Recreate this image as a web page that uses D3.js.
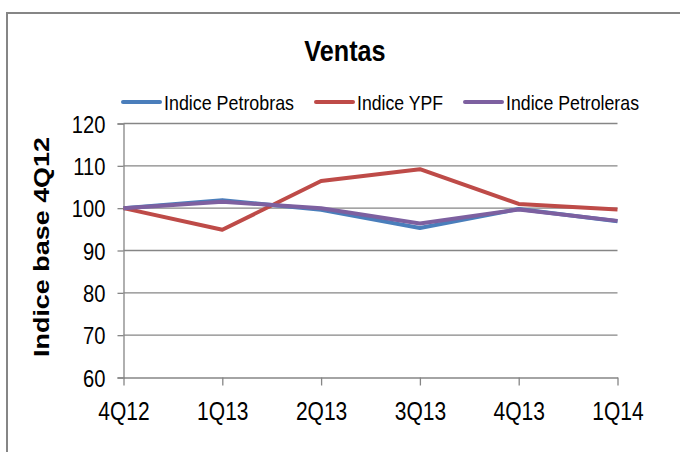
<!DOCTYPE html>
<html>
<head>
<meta charset="utf-8">
<script src="https://cdn.jsdelivr.net/npm/d3@7"></script>
<style>
body{margin:0;background:#fff;}
text{font-family:"Liberation Sans Narrow","Arial Narrow","Liberation Sans",sans-serif;fill:#000;}
</style>
</head>
<body>
<div id="chart"></div>
<script>
var quarters=["4Q12","1Q13","2Q13","3Q13","4Q13","1Q14"];
var petrobras=[100,101.9,99.6,95.3,99.8,96.9];
var ypf=[100,94.9,106.4,109.2,101.0,99.7];
var petroleras=[100,101.5,100.0,96.4,99.7,97.0];
var yTicks=[60,70,80,90,100,110,120];

var series=[
  {name:"Indice Petrobras",values:petrobras,color:"#4a7ebb"},
  {name:"Indice YPF",values:ypf,color:"#be4b48"},
  {name:"Indice Petroleras",values:petroleras,color:"#7d60a0"}
];

var W=680,H=452;
var svg=d3.select("#chart").append("svg").attr("width",W).attr("height",H);

// squeeze text to look like a narrow font
function narrow(sel,k){
  sel.each(function(){
    var w=this.getComputedTextLength();
    d3.select(this).attr("textLength",w*k).attr("lengthAdjust","spacingAndGlyphs");
  });
}

// outer frame (runs off right and bottom like the source picture)
svg.append("rect").attr("x",7).attr("y",13).attr("width",700).attr("height",460)
   .attr("fill","none").attr("stroke","#868686").attr("stroke-width",2);

var x=d3.scalePoint().domain(quarters).range([123.5,617.5]);
var y=d3.scaleLinear().domain([60,120]).range([377.5,123.5]);

// gridlines
svg.append("g").selectAll("line").data(yTicks.slice(1)).enter().append("line")
   .attr("x1",123.5).attr("x2",617.5)
   .attr("y1",function(d){return y(d);}).attr("y2",function(d){return y(d);})
   .attr("stroke","#868686").attr("stroke-width",1.3);

// y axis
var yAxis=svg.append("g").attr("transform","translate(123.5,0)")
   .call(d3.axisLeft(y).tickValues(yTicks).tickSize(6).tickPadding(12));
yAxis.select(".domain").attr("stroke","#868686").attr("stroke-width",1.3);
yAxis.selectAll(".tick line").attr("stroke","#868686").attr("stroke-width",1.3);
yAxis.selectAll("text").style("font-size","24px").attr("dy","0.36em");

// x axis
var xAxis=svg.append("g").attr("transform","translate(0,377.5)")
   .call(d3.axisBottom(x).tickSize(8).tickPadding(17).tickSizeOuter(0));
xAxis.select(".domain").attr("stroke","#868686").attr("stroke-width",1.3);
xAxis.selectAll(".tick line").attr("stroke","#868686").attr("stroke-width",1.3);
xAxis.selectAll("text").style("font-size","25px");
svg.selectAll(".tick text").attr("fill","#000");
narrow(svg.selectAll(".tick text"),0.84);

// lines
var line=d3.line().x(function(d,i){return x(quarters[i]);}).y(function(d){return y(d);});
svg.append("g").selectAll("path").data(series).enter().append("path")
   .attr("d",function(s){return line(s.values);})
   .attr("fill","none").attr("stroke",function(s){return s.color;})
   .attr("stroke-width",4).attr("stroke-linejoin","round");

// title
var title=svg.append("text").attr("x",345).attr("y",61).attr("text-anchor","middle")
   .style("font-size","30px").style("font-weight","bold").text("Ventas");
narrow(title,0.84);

// y axis title
svg.append("text").attr("transform","translate(49,247) rotate(-90)")
   .attr("text-anchor","middle")
   .style("font-family","'Liberation Sans',Arial,sans-serif")
   .style("font-size","22px").style("font-weight","bold")
   .attr("textLength",220).attr("lengthAdjust","spacingAndGlyphs")
   .text("Indice base 4Q12");

// legend
var legX=[123,316,465];
var legW=[130,86,133];
var leg=svg.append("g").selectAll("g").data(series).enter().append("g")
   .attr("transform",function(d,i){return "translate("+legX[i]+",102)";});
leg.append("line").attr("x1",0).attr("x2",37).attr("y1",0).attr("y2",0)
   .attr("stroke",function(d){return d.color;}).attr("stroke-width",4).attr("stroke-linecap","round");
leg.append("text").attr("x",41).attr("y",8).style("font-size","21px")
   .attr("textLength",function(d,i){return legW[i];}).attr("lengthAdjust","spacingAndGlyphs")
   .text(function(d){return d.name;});
</script>
</body>
</html>
